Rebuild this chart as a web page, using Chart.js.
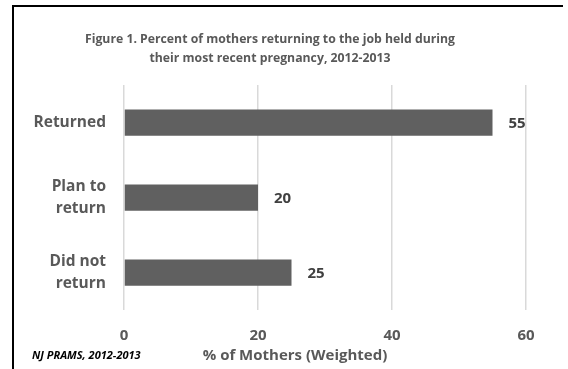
<!DOCTYPE html>
<html>
<head>
<meta charset="utf-8">
<script src="https://cdn.jsdelivr.net/npm/chart.js@4/dist/chart.umd.min.js"></script>
<style>
  html, body { margin: 0; padding: 0; background: #fff; }
  #wrap { position: relative; width: 568px; height: 369px; overflow: hidden; }
  #frame { position: absolute; left: 12px; top: 5px; width: 551px; height: 364px;
           border-left: 2px solid #000; border-top: 2px solid #000; box-sizing: border-box; }
  #src { position: absolute; left: 32px; top: 347px; font: italic bold 11px "Open Sans", sans-serif; color: #000; }
  #xtitle { position: absolute; left: 195px; width: 200px; top: 344px; text-align: center;
            font: bold 15px "Open Sans", sans-serif; color: #595959; }
  canvas { position: absolute; left: 0; top: 0; }
</style>
</head>
<body>
<div id="wrap">
  <canvas id="chart" width="568" height="369"></canvas>
  <div id="frame"></div>
  <div id="src">NJ PRAMS, 2012-2013</div>
  <div id="xtitle">% of Mothers (Weighted)</div>
</div>
<script>
// ---- data ----
const categories = ['Returned', ['Plan to', 'return'], ['Did not', 'return']];
const percents = [55, 20, 25];
const xTicks = [0, 20, 40, 60];

const TITLE = ['Figure 1. Percent of mothers returning to the job held during',
               'their most recent pregnancy, 2012-2013'];
const AXIS_GRAY = '#595959';

// value labels at the end of each bar
const barLabels = {
  id: 'barLabels',
  afterDatasetsDraw(chart) {
    const ctx = chart.ctx;
    const meta = chart.getDatasetMeta(0);
    ctx.save();
    ctx.font = 'bold 15px "Open Sans", sans-serif';
    ctx.fillStyle = '#404040';
    ctx.textBaseline = 'middle';
    ctx.textAlign = 'left';
    meta.data.forEach((bar, i) => {
      ctx.fillText(String(percents[i]), bar.x + 16, bar.y + 1);
    });
    ctx.restore();
  }
};

Chart.defaults.font.family = '"Open Sans", sans-serif';
Chart.defaults.color = AXIS_GRAY;

new Chart(document.getElementById('chart'), {
  type: 'bar',
  data: {
    labels: categories,
    datasets: [{
      data: percents,
      backgroundColor: '#606060',
      borderWidth: 0,
      categoryPercentage: 0.35,
      barPercentage: 1.0,
    }]
  },
  options: {
    indexAxis: 'y',
    responsive: false,
    animation: false,
    layout: { padding: { left: 14, right: 42, top: 0, bottom: 0 } },
    plugins: {
      legend: { display: false },
      tooltip: { enabled: false },
      title: {
        display: true,
        text: TITLE,
        color: AXIS_GRAY,
        font: { size: 12.25, weight: 'bold', lineHeight: 1.6 },
        padding: { top: 29.5, bottom: 16.3 },
      }
    },
    scales: {
      x: {
        min: 0, max: 60,
        afterBuildTicks: (s) => { s.ticks = xTicks.map(v => ({ value: v })); },
        afterFit: (s) => { s.height = 59; },
        border: { display: false },
        grid: { color: '#d9d9d9', lineWidth: 1.5, drawTicks: false },
        ticks: { padding: 17, font: { size: 15, weight: 'bold' }, color: AXIS_GRAY },
      },
      y: {
        afterFit: (s) => { s.width = 110; },
        border: { display: false },
        grid: { display: false, drawTicks: false },
        ticks: { padding: 18, font: { size: 15.5, weight: 'bold', lineHeight: 1.45 }, color: AXIS_GRAY },
      }
    }
  },
  plugins: [barLabels]
});
</script>
</body>
</html>
